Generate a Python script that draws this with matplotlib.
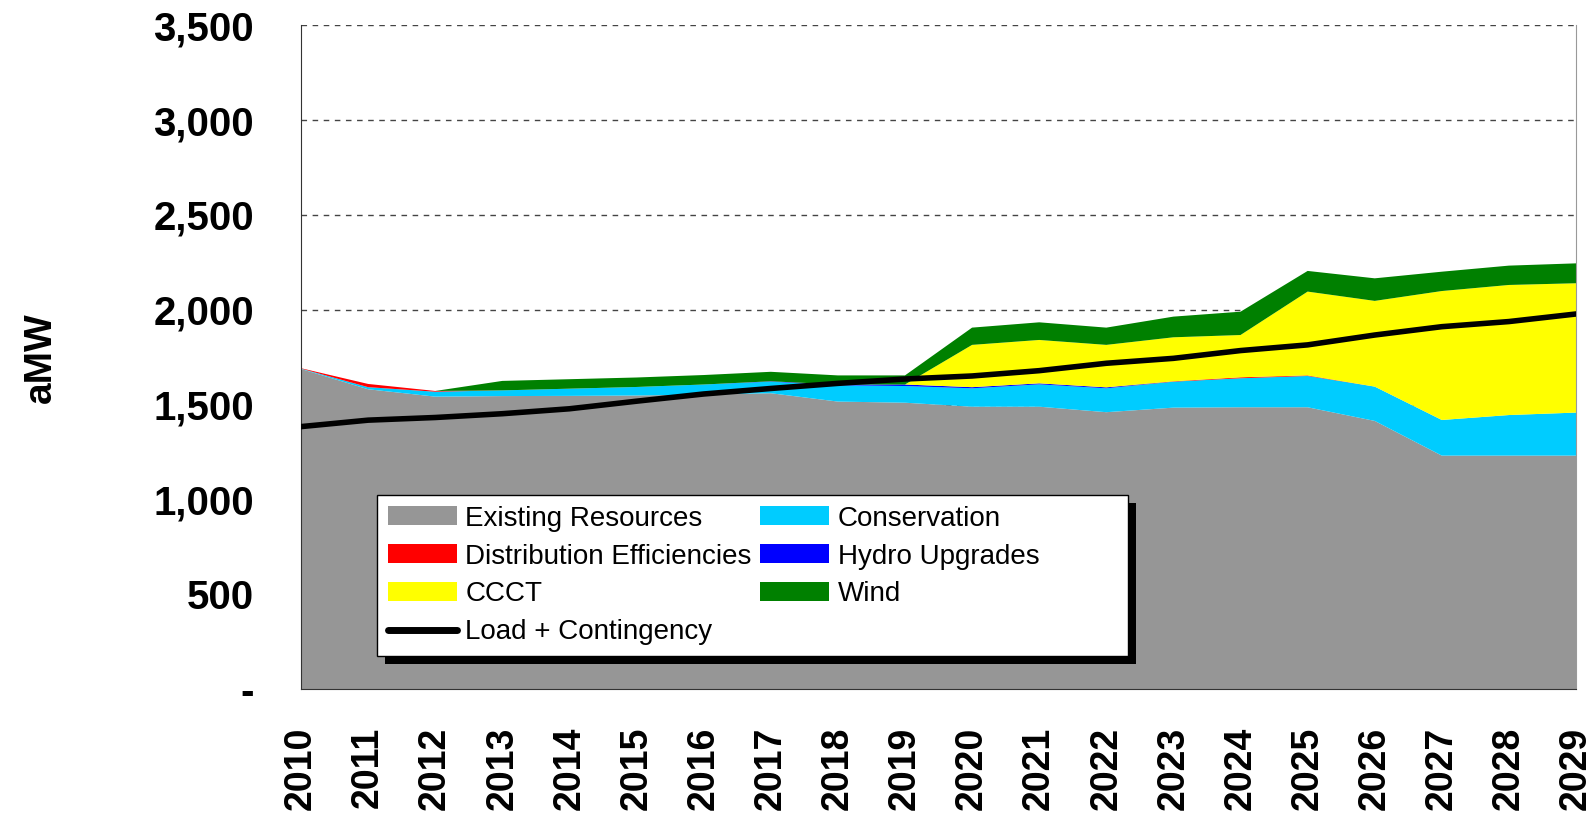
import numpy as np
import matplotlib.pyplot as plt
from matplotlib.patches import Rectangle
from matplotlib.lines import Line2D

# data (aMW) ---------------------------------------------------------------
years = np.arange(2010, 2030)
existing = [1688, 1581, 1542, 1545, 1546, 1548, 1553, 1560, 1516, 1510,
            1489, 1489, 1460, 1484, 1486, 1486, 1414, 1231, 1231, 1231]
conservation = [2, 11, 26, 30, 38, 45, 53, 61, 86, 88,
                97, 118, 126, 137, 153, 165, 181, 188, 214, 227]
dist_eff = [2, 17, 4, 0, 0, 0, 0, 0, 0, 0,
            0, 0, 0, 2, 5, 3, 0, 0, 0, 0]
hydro = [0, 0, 0, 0, 0, 0, 0, 2, 4, 8,
         6, 5, 5, 0, 0, 0, 0, 0, 0, 0]
ccct = [0, 0, 0, 0, 0, 0, 0, 0, 0, 0,
        223, 229, 224, 232, 223, 442, 452, 680, 686, 682]
wind = [0, 0, 0, 50, 50, 50, 50, 50, 48, 48,
        91, 93, 91, 109, 123, 109, 119, 102, 102, 105]
load = [1384, 1418, 1432, 1452, 1478, 1518, 1556, 1585, 1612, 1635,
        1651, 1679, 1718, 1744, 1785, 1815, 1867, 1911, 1938, 1978]

labels = ['Existing Resources', 'Conservation', 'Distribution Efficiencies',
          'Hydro Upgrades', 'CCCT', 'Wind']
colors = ['#969696', '#00CCFF', '#FF0000', '#0000FF', '#FFFF00', '#008000']

plt.rcParams['font.family'] = ['Liberation Sans', 'DejaVu Sans']

fig = plt.figure(figsize=(15.96, 8.16), dpi=100)
ax = fig.add_axes([0.1886, 0.1556, 0.7989, 0.8133])

# stacked areas
polys = ax.stackplot(years, existing, conservation, dist_eff, hydro, ccct, wind,
                     colors=colors, linewidth=0, zorder=2)

# load line
ax.plot(years, load, color='black', linewidth=4, solid_capstyle='round', zorder=3)

# axes
ax.set_xlim(2010, 2029)
ax.set_ylim(0, 3500)
ax.set_yticks(np.arange(0, 3501, 500))
ax.set_yticklabels(['-'] + [f'{v:,}' for v in range(500, 3501, 500)])
ax.set_xticks(years)
ax.set_xticklabels([str(y) for y in years], rotation=90)
ax.tick_params(axis='y', length=0, pad=34, labelsize=29)
ax.tick_params(axis='x', length=0, pad=27, labelsize=27)
for t in ax.get_xticklabels() + ax.get_yticklabels():
    t.set_fontweight('bold')
ax.set_ylabel('aMW', fontsize=28, fontweight='bold')
ax.yaxis.set_label_coords(-0.19, 0.5)

ax.grid(axis='y', linestyle=(0, (4, 4)), color='#444444', linewidth=1, zorder=1)
ax.set_axisbelow(True)
ax.spines['top'].set_visible(False)
ax.spines['right'].set_color('#999999')
ax.spines['left'].set_color('#333333')
ax.spines['bottom'].set_color('#333333')

# legend
h = [polys[0], polys[2], polys[4],
     Line2D([], [], color='black', linewidth=5, solid_capstyle='round'),
     polys[1], polys[3], polys[5]]
l = [labels[0], labels[2], labels[4], 'Load + Contingency',
     labels[1], labels[3] + ' ' * 10, labels[5]]
leg = ax.legend(h, l, ncol=2, loc='upper left',
                bbox_to_anchor=(377 / 1596, 1 - 495 / 816),
                bbox_transform=fig.transFigure,
                prop={'size': 20},
                fancybox=False, framealpha=1, edgecolor='black',
                handlelength=2.5, handleheight=0.68, handletextpad=0.3,
                labelspacing=0.43, columnspacing=0.3, borderpad=0.38,
                borderaxespad=0)
leg.get_frame().set_linewidth(1)
leg.set_zorder(6)

# black drop shadow behind the legend
fig.canvas.draw()
bb = leg.get_window_extent()
shadow = Rectangle((bb.x0 + 8, bb.y0 - 8), bb.width, bb.height,
                   transform=None, facecolor='black', edgecolor='none', zorder=5)
ax.add_artist(shadow)

fig.savefig('out.png', dpi=100)
